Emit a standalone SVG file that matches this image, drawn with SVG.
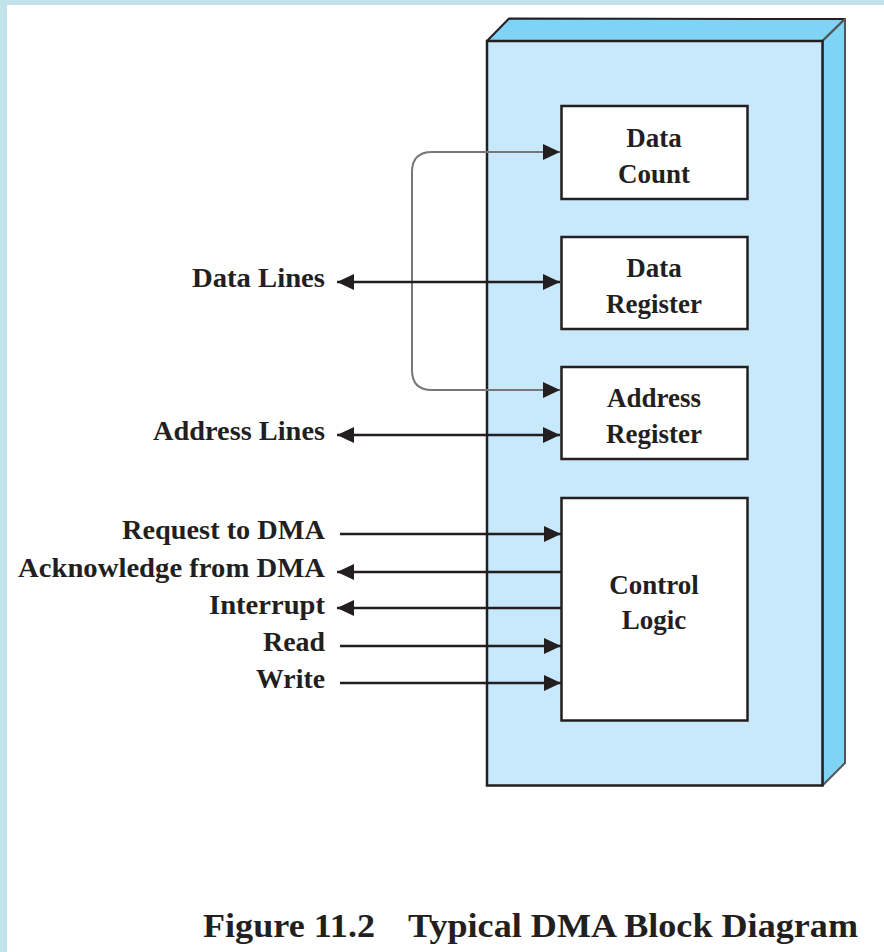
<svg xmlns="http://www.w3.org/2000/svg" width="884" height="952" viewBox="0 0 884 952">
  <style>
    .lbl { font-family: "Liberation Serif", "Times New Roman", serif; font-weight: bold; font-size: 27px; fill: #231f20; }
    .blk { fill: #ffffff; stroke: #231f20; stroke-width: 2.5; }
    .wire { fill: none; stroke: #231f20; stroke-width: 2.5; }
    .route { fill: none; stroke: #777777; stroke-width: 2; }
    .cap { font-family: "Liberation Serif", "Times New Roman", serif; font-weight: bold; font-size: 33px; fill: #231f20; }
  </style>
  <defs>
    <marker id="head" markerUnits="userSpaceOnUse" markerWidth="18" markerHeight="18" viewBox="0 0 18 18" refX="17" refY="9" orient="auto-start-reverse">
      <path d="M0,1 L17,9 L0,17 z" fill="#231f20"/>
    </marker>
  </defs>

  <!-- page frame -->
  <rect x="0" y="0" width="884" height="952" fill="#c2e3ec"/>
  <rect x="7" y="5" width="877" height="947" fill="#ffffff"/>

  <!-- DMA module housing -->
  <g id="dma-module">
    <polygon points="487,41 509,18.5 845,19 822.5,41" fill="#7fd3f5" stroke="#231f20" stroke-width="2" stroke-linejoin="round"/>
    <polygon points="822.5,41 845,19 845,763 822.5,785.5" fill="#7fd3f5" stroke="#555555" stroke-width="2" stroke-linejoin="round"/>
    <rect x="487" y="41" width="335.5" height="744.5" fill="#c7e9fb" stroke="#231f20" stroke-width="2.5"/>
  </g>

  <!-- connectors -->
  <g id="connectors">
    <path class="route" d="M560,152 H432 Q412,152 412,172 V370 Q412,390 432,390 H560" marker-start="url(#head)" marker-end="url(#head)"/>
    <line class="wire" x1="337" y1="282" x2="560" y2="282" marker-start="url(#head)" marker-end="url(#head)"/>
    <line class="wire" x1="337" y1="435" x2="560" y2="435" marker-start="url(#head)" marker-end="url(#head)"/>
    <line class="wire" x1="340" y1="534" x2="561" y2="534" marker-end="url(#head)"/>
    <line class="wire" x1="561" y1="572" x2="337" y2="572" marker-end="url(#head)"/>
    <line class="wire" x1="561" y1="608" x2="337" y2="608" marker-end="url(#head)"/>
    <line class="wire" x1="340" y1="646" x2="561" y2="646" marker-end="url(#head)"/>
    <line class="wire" x1="340" y1="683" x2="561" y2="683" marker-end="url(#head)"/>
  </g>

  <g id="data-count">
    <rect class="blk" x="561.5" y="106" width="186" height="93"/>
    <text class="lbl" x="654" y="147" text-anchor="middle">Data</text>
    <text class="lbl" x="654" y="183" text-anchor="middle">Count</text>
  </g>

  <g id="data-register">
    <rect class="blk" x="561.5" y="237" width="186" height="92"/>
    <text class="lbl" x="654" y="277" text-anchor="middle">Data</text>
    <text class="lbl" x="654" y="313" text-anchor="middle">Register</text>
  </g>

  <g id="address-register">
    <rect class="blk" x="561.5" y="367" width="186" height="92"/>
    <text class="lbl" x="654" y="407" text-anchor="middle">Address</text>
    <text class="lbl" x="654" y="443" text-anchor="middle">Register</text>
  </g>

  <g id="control-logic">
    <rect class="blk" x="561.5" y="498" width="186" height="222.5"/>
    <text class="lbl" x="654" y="594" text-anchor="middle">Control</text>
    <text class="lbl" x="654" y="629" text-anchor="middle">Logic</text>
  </g>

  <!-- external signal labels -->
  <g id="signal-labels">
    <text class="lbl" x="325" y="287" text-anchor="end" textLength="133" lengthAdjust="spacingAndGlyphs">Data Lines</text>
    <text class="lbl" x="325" y="440" text-anchor="end" textLength="172" lengthAdjust="spacingAndGlyphs">Address Lines</text>
    <text class="lbl" x="325" y="539" text-anchor="end" textLength="203" lengthAdjust="spacingAndGlyphs">Request to DMA</text>
    <text class="lbl" x="325" y="577" text-anchor="end" textLength="307" lengthAdjust="spacingAndGlyphs">Acknowledge from DMA</text>
    <text class="lbl" x="325" y="614" text-anchor="end" textLength="116" lengthAdjust="spacingAndGlyphs">Interrupt</text>
    <text class="lbl" x="325" y="651" text-anchor="end" textLength="62" lengthAdjust="spacingAndGlyphs">Read</text>
    <text class="lbl" x="325" y="688" text-anchor="end" textLength="69" lengthAdjust="spacingAndGlyphs">Write</text>
  </g>

  <!-- caption -->
  <g id="caption">
    <text class="cap" x="203" y="937" textLength="172" lengthAdjust="spacingAndGlyphs">Figure 11.2</text>
    <text class="cap" x="408" y="937" textLength="450" lengthAdjust="spacingAndGlyphs">Typical DMA Block Diagram</text>
  </g>
</svg>
